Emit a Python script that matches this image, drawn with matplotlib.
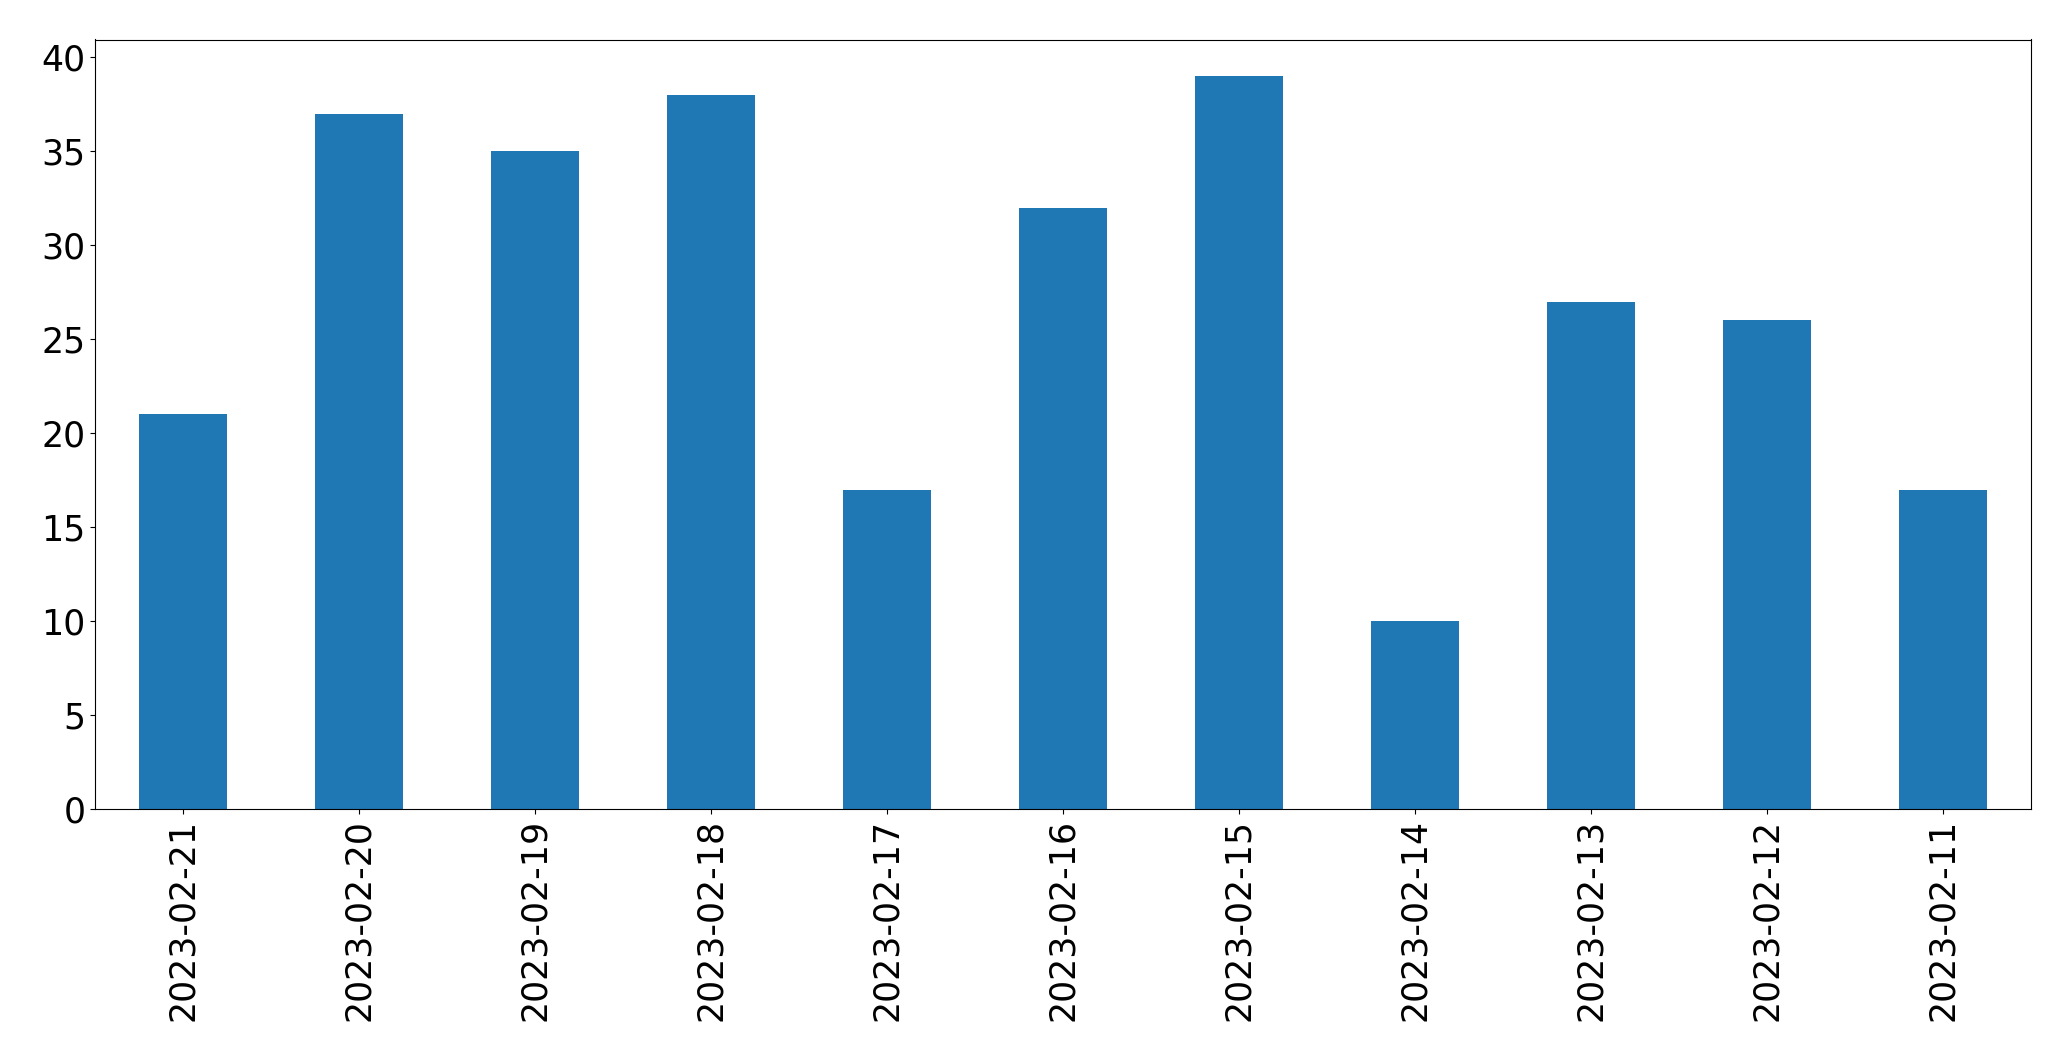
import matplotlib
matplotlib.use("Agg")
import matplotlib.pyplot as plt

# daily counts, newest first
dates = ["2023-02-21", "2023-02-20", "2023-02-19", "2023-02-18", "2023-02-17",
         "2023-02-16", "2023-02-15", "2023-02-14", "2023-02-13", "2023-02-12",
         "2023-02-11"]
counts = [21, 37, 35, 38, 17, 32, 39, 10, 27, 26, 17]

fig = plt.figure(figsize=(20.71, 10.61), dpi=100)
ax = fig.add_axes([95 / 2071, 1 - 809 / 1061, (2031 - 95) / 2071, (809 - 39.5) / 1061])

x = range(len(dates))
ax.bar(x, counts, width=0.5, color="#1f77b4")
ax.set_xlim(-0.5, len(dates) - 0.5)
ax.set_ylim(0, max(counts) * 1.05)
ax.set_xticks(list(x))
ax.set_xticklabels(dates, rotation=90)
ax.tick_params(labelsize=25)

fig.savefig("out.png", dpi=100)
